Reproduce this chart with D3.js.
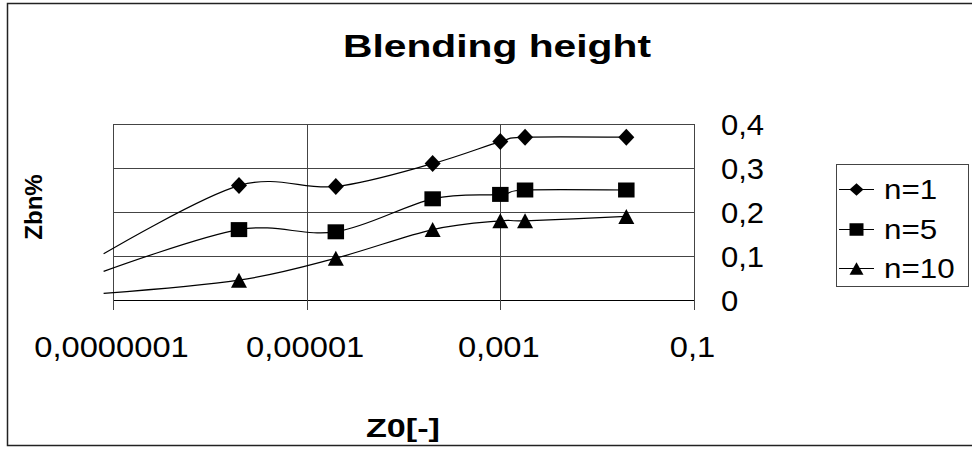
<!DOCTYPE html>
<html>
<head>
<meta charset="utf-8">
<script src="https://cdn.jsdelivr.net/npm/d3@7"></script>
<style>
  html, body { margin: 0; padding: 0; background: #fff; }
  svg { display: block; font-family: "Liberation Sans", Arial, sans-serif; }
</style>
</head>
<body>
<svg id="chart" width="972" height="450"></svg>
<script>
// Roughness length Z0 (log scale) against blending height share
const z0 = [8e-8, 2e-6, 2e-5, 2e-4, 1e-3, 1.8e-3, 2e-2];
const n1 = [0.105, 0.26, 0.258, 0.31, 0.36, 0.37, 0.37];
const n5 = [0.065, 0.16, 0.155, 0.23, 0.24, 0.25, 0.25];
const n10 = [0.015, 0.045, 0.095, 0.16, 0.18, 0.18, 0.19];
const seriesNames = ["n=1", "n=5", "n=10"];
const seriesSymbols = ["diamond", "square", "triangle"];
const xTicks = [1e-7, 1e-5, 1e-3, 0.1];
const yTicks = [0, 0.1, 0.2, 0.3, 0.4];
const titleText = "Blending height";
const xTitle = "Z0[-]";
const yTitle = "Zbn%";

const series = [n1, n5, n10].map((vals, i) => ({
  name: seriesNames[i],
  symbol: seriesSymbols[i],
  points: z0.map((x, j) => ({ x, y: vals[j] }))
}));

const locale = d3.formatLocale({ decimal: ",", thousands: ".", grouping: [3], currency: ["", ""] });
const fmtX = locale.format(".7~f");
const fmtY = locale.format("~f");

const svg = d3.select("#chart");
const font = "'Liberation Sans', Arial, sans-serif";

const x = d3.scaleLog().domain([1e-7, 0.1]).range([113, 694]);
const y = d3.scaleLinear().domain([0, 0.4]).range([300, 124]);

// outer frame
svg.append("rect")
  .attr("x", 7.5).attr("y", 3.5).attr("width", 990).attr("height", 442)
  .attr("fill", "#fff").attr("stroke", "#222").attr("stroke-width", 1.5);

// title
svg.append("text")
  .attr("x", 497).attr("y", 57)
  .attr("text-anchor", "middle")
  .attr("font-size", 32).attr("font-weight", "bold")
  .attr("textLength", 308).attr("lengthAdjust", "spacingAndGlyphs")
  .text(titleText);

// horizontal gridlines
svg.append("g").selectAll("line").data(yTicks).join("line")
  .attr("x1", x.range()[0]).attr("x2", x.range()[1])
  .attr("y1", d => Math.round(y(d)) + 0.5).attr("y2", d => Math.round(y(d)) + 0.5)
  .attr("stroke", d => d === 0 ? "#000" : "#444").attr("stroke-width", 1);

// vertical gridlines, continuing down as tick marks
svg.append("g").selectAll("line").data(xTicks).join("line")
  .attr("x1", d => Math.round(x(d)) + 0.5).attr("x2", d => Math.round(x(d)) + 0.5)
  .attr("y1", y(0.4)).attr("y2", y(0) + 10)
  .attr("stroke", "#444").attr("stroke-width", 1);

// x axis (labels only; ticks drawn above)
const sxX = 1.09;
const xAxis = svg.append("g")
  .attr("transform", `translate(0.5,${y(0)})`)
  .call(d3.axisBottom(x).tickValues(xTicks).tickFormat(fmtX).tickSize(0));
xAxis.select(".domain").remove();
xAxis.selectAll("text")
  .attr("y", 57).attr("dy", 0).attr("x", -2.5 / sxX)
  .attr("transform", `scale(${sxX},1)`)
  .attr("font-size", 30).attr("font-family", font).attr("fill", "#000");

// y axis on the right side
const sxY = 1.07;
const yAxis = svg.append("g")
  .attr("transform", `translate(${x.range()[1]},0.5)`)
  .call(d3.axisRight(y).tickValues(yTicks).tickFormat(fmtY).tickSize(0));
yAxis.select(".domain").remove();
yAxis.selectAll("text")
  .attr("x", 27 / sxY).attr("dy", "0.36em")
  .attr("transform", `scale(${sxY},1)`)
  .attr("font-size", 29).attr("font-family", font).attr("fill", "#000");

// axis titles
svg.append("text")
  .attr("x", 403).attr("y", 437)
  .attr("text-anchor", "middle")
  .attr("font-size", 26).attr("font-weight", "bold")
  .attr("textLength", 74).attr("lengthAdjust", "spacingAndGlyphs")
  .text(xTitle);

svg.append("text")
  .attr("transform", "translate(42,207) rotate(-90)")
  .attr("text-anchor", "middle")
  .attr("font-size", 24).attr("font-weight", "bold")
  .text(yTitle);

// marker shapes centred on (0,0)
function markerPath(sym, w, h) {
  const a = w / 2, b = h / 2;
  if (sym === "diamond") return `M0,${-b}L${a},0L0,${b}L${-a},0Z`;
  if (sym === "square") return `M${-a},${-b}H${a}V${b}H${-a}Z`;
  return `M0,${-b}L${a},${b}L${-a},${b}Z`;
}
const markerSize = { diamond: [16, 17], square: [16.5, 15], triangle: [16, 15] };

// smoothed series lines
const line = d3.line()
  .x(d => x(d.x)).y(d => y(d.y))
  .curve(d3.curveCardinal.tension(0));

const gSeries = svg.append("g");
series.forEach(s => {
  gSeries.append("path")
    .attr("d", line(s.points))
    .attr("fill", "none").attr("stroke", "#000").attr("stroke-width", 1.2);
});
series.forEach(s => {
  const [w, h] = markerSize[s.symbol];
  gSeries.append("g").selectAll("path")
    .data(s.points.filter(p => p.x >= x.domain()[0]))
    .join("path")
    .attr("transform", p => `translate(${x(p.x)},${y(p.y)})`)
    .attr("d", markerPath(s.symbol, w, h))
    .attr("fill", "#000");
});

// legend
const sxL = 1.12;
const legend = svg.append("g");
legend.append("rect")
  .attr("x", 836.5).attr("y", 164.5).attr("width", 132).attr("height", 122)
  .attr("fill", "#fff").attr("stroke", "#444").attr("stroke-width", 1);
const legendRows = [189.5, 229.5, 268.5];
series.forEach((s, i) => {
  const cy = legendRows[i];
  legend.append("line")
    .attr("x1", 839).attr("x2", 874).attr("y1", cy).attr("y2", cy)
    .attr("stroke", "#000").attr("stroke-width", 1);
  legend.append("path")
    .attr("transform", `translate(856.5,${cy})`)
    .attr("d", markerPath(s.symbol, 14, 12.5))
    .attr("fill", "#000");
  legend.append("text")
    .attr("x", 884 / sxL).attr("y", cy + 10)
    .attr("transform", `scale(${sxL},1)`)
    .attr("font-size", 28)
    .text(s.name);
});
</script>
</body>
</html>
